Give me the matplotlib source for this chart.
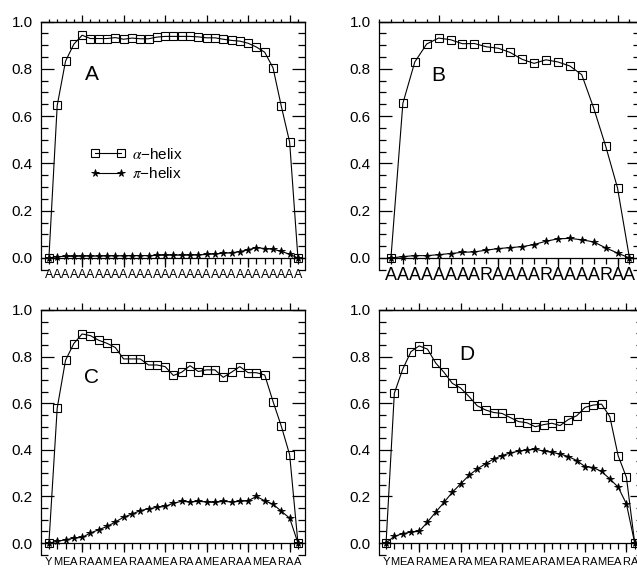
import numpy as np
import matplotlib
matplotlib.use('Agg')
import matplotlib.pyplot as plt
from matplotlib.ticker import MultipleLocator

plt.rcParams['font.family'] = ['Liberation Sans', 'DejaVu Sans']
plt.rcParams['mathtext.fontset'] = 'stix'

# sequences (x tick labels)
seq_a = 'A' * 31
seq_b = 'AAAAAAAARAAAARAAAARAA'
seq_c = 'YMEARAAMEARAAMEARAAMEARAAMEARAA'
seq_d = 'YMEARAMEARAMEARAMEARAMEARAMEARA'

# alpha-helix fraction per residue
alpha_a = [0.0, 0.645, 0.832, 0.904, 0.942, 0.928, 0.928, 0.928, 0.932, 0.925,
           0.930, 0.927, 0.927, 0.934, 0.937, 0.937, 0.937, 0.937, 0.935, 0.931,
           0.931, 0.925, 0.920, 0.917, 0.908, 0.892, 0.870, 0.804, 0.641, 0.490, 0.0]
alpha_b = [0.0, 0.654, 0.829, 0.905, 0.930, 0.923, 0.906, 0.907, 0.893, 0.887,
           0.869, 0.840, 0.823, 0.838, 0.829, 0.812, 0.775, 0.634, 0.474, 0.296, 0.0]
alpha_c = [0.0, 0.579, 0.784, 0.856, 0.897, 0.890, 0.870, 0.857, 0.839, 0.790,
           0.790, 0.790, 0.764, 0.764, 0.757, 0.719, 0.733, 0.761, 0.736, 0.743,
           0.743, 0.711, 0.733, 0.757, 0.731, 0.731, 0.721, 0.607, 0.501, 0.379, 0.0]
alpha_d = [0.0, 0.643, 0.745, 0.821, 0.846, 0.832, 0.772, 0.732, 0.685, 0.665,
           0.629, 0.589, 0.571, 0.560, 0.556, 0.538, 0.521, 0.516, 0.499, 0.508,
           0.514, 0.504, 0.530, 0.546, 0.582, 0.592, 0.596, 0.542, 0.375, 0.282, 0.0]

# pi-helix fraction per residue
pi_a = [0.0, 0.006, 0.007, 0.007, 0.008, 0.008, 0.008, 0.009, 0.009, 0.009,
        0.010, 0.010, 0.010, 0.011, 0.012, 0.012, 0.012, 0.012, 0.013, 0.015,
        0.017, 0.020, 0.022, 0.027, 0.035, 0.044, 0.040, 0.037, 0.028, 0.016, 0.0]
pi_b = [0.0, 0.006, 0.010, 0.010, 0.014, 0.019, 0.024, 0.026, 0.033, 0.040,
        0.044, 0.048, 0.057, 0.071, 0.081, 0.083, 0.077, 0.068, 0.043, 0.021, 0.0]
pi_c = [0.0, 0.007, 0.014, 0.021, 0.024, 0.043, 0.057, 0.071, 0.090, 0.111,
        0.124, 0.139, 0.147, 0.153, 0.157, 0.171, 0.179, 0.176, 0.179, 0.176,
        0.174, 0.179, 0.176, 0.179, 0.181, 0.200, 0.181, 0.167, 0.136, 0.107, 0.0]
pi_d = [0.0, 0.029, 0.040, 0.047, 0.050, 0.090, 0.133, 0.175, 0.218, 0.254,
        0.290, 0.318, 0.340, 0.361, 0.375, 0.387, 0.394, 0.399, 0.402, 0.395,
        0.389, 0.382, 0.371, 0.354, 0.328, 0.324, 0.307, 0.275, 0.240, 0.168, 0.0]

panels = [
    # seq, alpha, pi, letter, rect, xlim, letter pos, label size, label pad
    (seq_a, alpha_a, pi_a, 'A', [0.0644, 0.5258, 0.4144, 0.4364], (0.05, 31.85), (6.18, 0.778), 9, 3.5),
    (seq_b, alpha_b, pi_b, 'B', [0.5950, 0.5258, 0.4100, 0.4364], (0.0, 21.9), (4.93, 0.772), 13, 2.5),
    (seq_c, alpha_c, pi_c, 'C', [0.0644, 0.0252, 0.4144, 0.4300], (0.05, 31.85), (6.18, 0.712), 8, 5.5),
    (seq_d, alpha_d, pi_d, 'D', [0.5950, 0.0252, 0.4144, 0.4300], (0.15, 32.0), (10.8, 0.807), 8, 5.5),
]

fig = plt.figure(figsize=(6.37, 5.69), dpi=100)

for seq, alpha, pi, letter, rect, xlim, lpos, lsize, lpad in panels:
    ax = fig.add_axes(rect)
    x = np.arange(1, len(seq) + 1)
    ax.plot(x, alpha, color='black', lw=0.8, marker='s', ms=5.5,
            mfc='none', mec='black', mew=0.8, label='$\\alpha$\u2212helix')
    ax.plot(x, pi, color='black', lw=0.8, marker='*', ms=5.5,
            mfc='black', mec='black', mew=0.6, label='$\\pi$\u2212helix')
    ax.set_xlim(*xlim)
    ax.set_ylim(-0.05, 1.0)
    ax.spines['bottom'].set_position(('data', 0))
    for s in ax.spines.values():
        s.set_linewidth(0.9)

    # y ticks inward on both sides
    ax.set_yticks([0.0, 0.2, 0.4, 0.6, 0.8, 1.0])
    ax.yaxis.set_minor_locator(MultipleLocator(0.05))
    ax.tick_params(axis='y', which='both', direction='in', left=True, right=True,
                   labelsize=11, pad=6, width=0.9)
    ax.tick_params(axis='y', which='major', length=9.5)
    ax.tick_params(axis='y', which='minor', length=4.7)
    ax.set_yticklabels(['0.0', '0.2', '0.4', '0.6', '0.8', '1.0'])

    # x ticks: sequence letters under every residue
    ax.xaxis.remove_overlapping_locs = False
    ax.set_xticks(np.arange(5, len(seq) + 1, 5))
    ax.set_xticks(x, labels=list(seq), minor=True)
    ax.tick_params(axis='x', which='both', direction='out', top=False, width=0.9)
    ax.tick_params(axis='x', which='major', length=6.5, labelbottom=False)
    ax.tick_params(axis='x', which='minor', length=4.3, labelsize=lsize, pad=lpad)

    top = ax.secondary_xaxis('top')
    top.set_xticks(np.arange(5, len(seq) + 1, 5))
    top.xaxis.set_minor_locator(MultipleLocator(1))
    top.tick_params(axis='x', which='both', direction='out', labeltop=False, width=0.9)
    top.tick_params(axis='x', which='major', length=4.7)
    top.tick_params(axis='x', which='minor', length=2.5)
    top.spines['top'].set_linewidth(0.9)

    ax.text(lpos[0], lpos[1], letter, fontsize=15, ha='center', va='center')

    if letter == 'A':
        ax.legend(loc='upper left', bbox_to_anchor=(6.0, 0.47),
                  bbox_transform=ax.transData, frameon=False, fontsize=11,
                  numpoints=2, handlelength=2.3, handletextpad=0.45,
                  labelspacing=0.3, borderpad=0, borderaxespad=0)

fig.savefig('out.png', dpi=100)
